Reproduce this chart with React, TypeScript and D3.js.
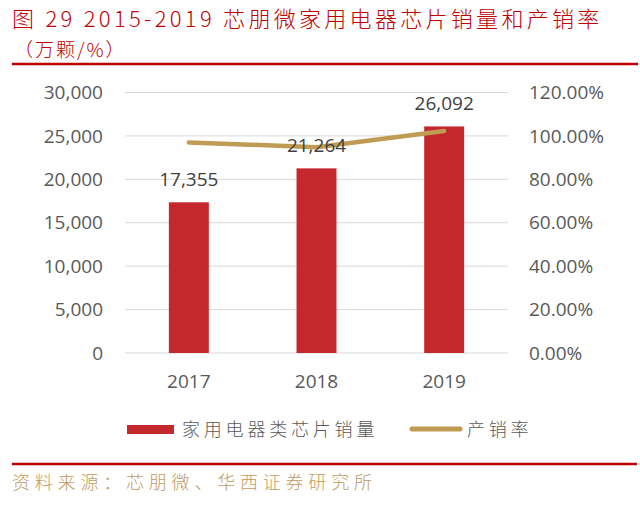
import React from 'react';
import * as d3 from 'd3';

const years = ['2017', '2018', '2019'];
const sales = [17355, 21264, 26092];
const prodSalesRate = [0.970, 0.948, 1.023];
const leftTicks = [0, 5000, 10000, 15000, 20000, 25000, 30000];
const rightTicks = [0, 0.2, 0.4, 0.6, 0.8, 1.0, 1.2];

const W = 640;
const H = 505;
const RED = '#C5282C';
const GOLD = '#BF9B53';
const RULE = '#C00000';
const TXT = '#595959';
const NUM_FONT = '"Open Sans", "Noto Sans", sans-serif';
const CJK_FONT = '"Noto Sans CJK SC", sans-serif';

const App: React.FC = () => {
  const plot = { left: 125, right: 508, top: 92.5, bottom: 353 };

  const x = d3.scaleBand<string>()
    .domain(years)
    .range([plot.left, plot.right])
    .paddingInner(0.687)
    .paddingOuter(0.3435);

  const yLeft = d3.scaleLinear().domain([0, 30000]).range([plot.bottom, plot.top]);
  const yRight = d3.scaleLinear().domain([0, 1.2]).range([plot.bottom, plot.top]);

  const fmtNum = d3.format(',');
  const fmtPct = d3.format('.2%');

  const line = d3.line<number>()
    .x((_, i) => x(years[i])! + x.bandwidth() / 2)
    .y(d => yRight(d));

  return (
    <svg width={W} height={H} style={{ position: 'absolute', left: 0, top: 0, background: '#fff' }}>
      {/* title */}
      <text x={12} y={27} fill={RULE} fontFamily={CJK_FONT} fontSize={22} fontWeight={300} letterSpacing={3.3}>
        图 29 2015-2019 芯朋微家用电器芯片销量和产销率
      </text>
      <text x={14} y={57} fill={RULE} fontFamily={CJK_FONT} fontSize={19} fontWeight={300} letterSpacing={2}>
        （万颗/%）
      </text>
      <line x1={12} x2={638} y1={64} y2={64} stroke={RULE} strokeWidth={2.5} />

      {/* gridlines */}
      {leftTicks.map(t => (
        <line key={t} x1={plot.left} x2={plot.right} y1={yLeft(t)} y2={yLeft(t)} stroke="#d9d9d9" strokeWidth={1} />
      ))}

      {/* left axis */}
      {leftTicks.map(t => (
        <text key={t} x={103} y={yLeft(t)} dy="0.35em" textAnchor="end" fill={TXT} fontFamily={NUM_FONT} fontSize={19}>
          {fmtNum(t)}
        </text>
      ))}

      {/* right axis */}
      {rightTicks.map(t => (
        <text key={t} x={529} y={yRight(t)} dy="0.35em" textAnchor="start" fill={TXT} fontFamily={NUM_FONT} fontSize={19}>
          {fmtPct(t)}
        </text>
      ))}

      {/* bars */}
      {sales.map((v, i) => (
        <rect key={years[i]} x={x(years[i])} y={yLeft(v)} width={x.bandwidth()} height={plot.bottom - yLeft(v)} fill={RED} />
      ))}

      {/* line */}
      <path d={line(prodSalesRate) || ''} fill="none" stroke={GOLD} strokeWidth={4.5} strokeLinecap="round" strokeLinejoin="round" />

      {/* data labels */}
      {sales.map((v, i) => (
        <text key={years[i]} x={x(years[i])! + x.bandwidth() / 2} y={yLeft(v) - 16} textAnchor="middle" fill="#404040" fontFamily={NUM_FONT} fontSize={19}>
          {fmtNum(v)}
        </text>
      ))}

      {/* x labels */}
      {years.map(yr => (
        <text key={yr} x={x(yr)! + x.bandwidth() / 2} y={388} textAnchor="middle" fill={TXT} fontFamily={NUM_FONT} fontSize={19}>
          {yr}
        </text>
      ))}

      {/* legend */}
      <rect x={127} y={425} width={47} height={9} fill={RED} />
      <text x={182} y={430} dy="0.35em" fill={TXT} fontFamily={CJK_FONT} fontSize={18} fontWeight={300} letterSpacing={3.8}>
        家用电器类芯片销量
      </text>
      <line x1={412} x2={460} y1={429} y2={429} stroke={GOLD} strokeWidth={5} strokeLinecap="round" />
      <text x={467} y={430} dy="0.35em" fill={TXT} fontFamily={CJK_FONT} fontSize={18} fontWeight={300} letterSpacing={3.8}>
        产销率
      </text>

      {/* bottom rule + source */}
      <line x1={12} x2={637} y1={464} y2={464} stroke={RULE} strokeWidth={2.5} />
      <text x={12} y={489} fill="#C09A60" fontFamily={CJK_FONT} fontSize={18} fontWeight={300} letterSpacing={4.8}>
        资料来源：芯朋微、华西证券研究所
      </text>
    </svg>
  );
};

export default App;
